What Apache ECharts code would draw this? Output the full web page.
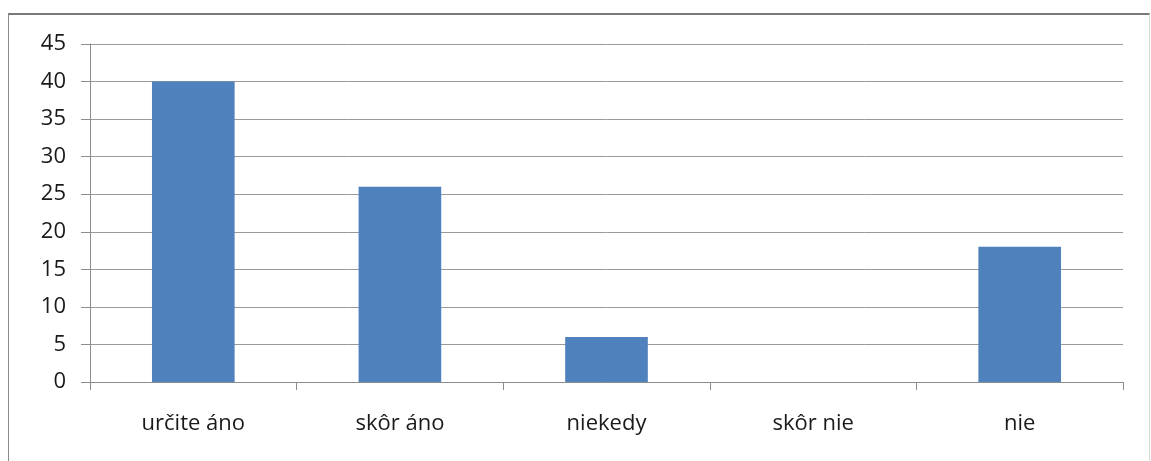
<!DOCTYPE html>
<html>
<head>
<meta charset="utf-8">
<script src="https://cdn.jsdelivr.net/npm/echarts@6/dist/echarts.min.js"></script>
<style>
  html, body { margin: 0; padding: 0; background: #fff; }
  #frame {
    position: absolute; left: 8px; top: 13px; width: 1140px; height: 470px;
    border-top: 2px solid #7a7a7a; border-left: 1px solid #8a8a8a; border-right: 1px solid #d8d8d8;
  }
  #chart { position: absolute; left: 0; top: 0; width: 1151px; height: 461px; }
</style>
</head>
<body>
<div id="frame"></div>
<div id="chart"></div>
<script>
const categories = ['určite áno', 'skôr áno', 'niekedy', 'skôr nie', 'nie'];
const values = [40, 26, 6, 0, 18];

const chart = echarts.init(document.getElementById('chart'));

const option = {
  animation: false,
  grid: { left: 90, right: 28, top: 44, bottom: 79 },
  xAxis: {
    type: 'category',
    data: categories,
    axisLine: { lineStyle: { color: '#8c8c8c', width: 1 } },
    axisTick: { show: true, length: 8, lineStyle: { color: '#8c8c8c' } },
    axisLabel: { color: '#1a1a1a', fontSize: 22, fontFamily: 'Open Sans', margin: 31 },
  },
  yAxis: {
    type: 'value',
    min: 0,
    max: 45,
    interval: 5,
    axisLine: { show: true, lineStyle: { color: '#8c8c8c', width: 1 } },
    axisTick: { show: true, length: 9, lineStyle: { color: '#8c8c8c' } },
    splitLine: { lineStyle: { color: '#9a9a9a', width: 1 } },
    axisLabel: { color: '#1a1a1a', fontSize: 22, fontFamily: 'Open Sans', margin: 24 },
  },
  series: [
    {
      type: 'bar',
      data: values,
      barWidth: '40%',
      itemStyle: { color: '#4f81bd' },
    },
  ],
};

chart.setOption(option);
</script>
</body>
</html>
